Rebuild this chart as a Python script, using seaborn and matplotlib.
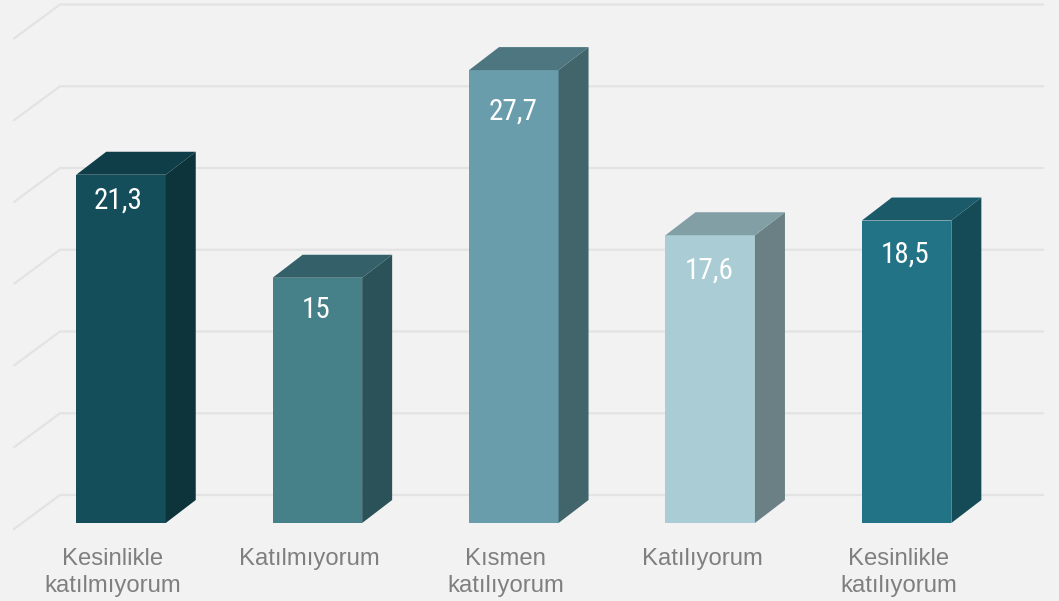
import matplotlib
matplotlib.use("Agg")
import matplotlib.pyplot as plt
from matplotlib.patches import Polygon
from matplotlib.transforms import ScaledTranslation
import pandas as pd
import seaborn as sns

# Chart data.
categories = [
    "Kesinlikle\nkatılmıyorum",
    "Katılmıyorum",
    "Kısmen\nkatılıyorum",
    "Katılıyorum",
    "Kesinlikle\nkatılıyorum",
]
values = [21.3, 15, 27.7, 17.6, 18.5]
grid_values = [0, 5, 10, 15, 20, 25, 30]

front_colors = ["#144e5a", "#468089", "#699dac", "#a9ccd5", "#237386"]
side_colors = ["#0d343b", "#2c5259", "#42646b", "#6b8085", "#154b56"]
top_colors = ["#0f3d48", "#346069", "#4e7681", "#829fa6", "#1b5a68"]

# Value labels are not at a constant distance below the bar tops (in pixels).
label_dx_px = [-3, -1, -1, -1, -1]
label_dy_px = [-26, -32, -41, -35, -34]

background = "#f2f2f2"
grid_color = "#e3e3e3"

# Pixel scale of the reference.
px_per_cat = 196.4
px_per_unit = 16.35
bar_width = 89.5 / px_per_cat
bar_dx = 30 / px_per_cat
bar_dy = 23 / px_per_unit

sns.set_theme(style="white")
plt.rcParams["font.family"] = ["Liberation Sans", "DejaVu Sans"]

fig = plt.figure(figsize=(10.59, 6.01), dpi=100, facecolor=background)
ax = fig.add_axes([0, 72 / 601, 1, 529 / 601], facecolor=background)

df = pd.DataFrame({"category": categories, "value": values})
sns.barplot(
    data=df, x="category", y="value", hue="category", palette=front_colors,
    legend=False, width=bar_width, saturation=1, ax=ax, zorder=3, linewidth=0,
)

ax.set_xlim(-121 / px_per_cat, (1059 - 121) / px_per_cat)
ax.set_ylim(-6 / px_per_unit, 523 / px_per_unit)

# Back wall and floor lines.
wall_x0 = (60 - 121) / px_per_cat
wall_x1 = (1043 - 121) / px_per_cat
floor_x0 = (14 - 121) / px_per_cat
wall_dy = 28 / px_per_unit
floor_dy = -6 / px_per_unit
for v in grid_values:
    ax.plot([floor_x0, wall_x0, wall_x1],
            [v + floor_dy, v + wall_dy, v + wall_dy],
            color=grid_color, lw=1.6, zorder=1, clip_on=False,
            solid_joinstyle="miter")

# Side and top faces, plus the value labels.
for i, v in enumerate(values):
    left = i - bar_width / 2
    right = i + bar_width / 2
    ax.add_patch(Polygon(
        [(right, 0), (right + bar_dx, bar_dy), (right + bar_dx, v + bar_dy), (right, v)],
        closed=True, facecolor=side_colors[i], edgecolor="none", zorder=3))
    ax.add_patch(Polygon(
        [(left, v), (left + bar_dx, v + bar_dy), (right + bar_dx, v + bar_dy), (right, v)],
        closed=True, facecolor=top_colors[i], edgecolor="none", zorder=3))
    ax.annotate(str(v).replace(".", ","), (i, v),
                xytext=(label_dx_px[i] * 0.72, label_dy_px[i] * 0.72),
                textcoords="offset points", ha="center", va="center",
                color="white", fontsize=21, zorder=4,
                family=["Roboto Condensed", "Roboto"])

ax.set_xlabel("")
ax.set_ylabel("")
ax.set_yticks([])
ax.set_xticks(range(len(categories)))
ax.set_xticklabels(categories, color="#7f7f7f", fontsize=17.2, linespacing=1.28)
ax.tick_params(axis="x", length=0, pad=14)
# Labels sit a little left of the bar centres.
shift = ScaledTranslation(-8 / 100, 0, fig.dpi_scale_trans)
for label in ax.get_xticklabels():
    label.set_transform(label.get_transform() + shift)
sns.despine(ax=ax, left=True, bottom=True)

fig.savefig("out.png", dpi=100, facecolor=background)
